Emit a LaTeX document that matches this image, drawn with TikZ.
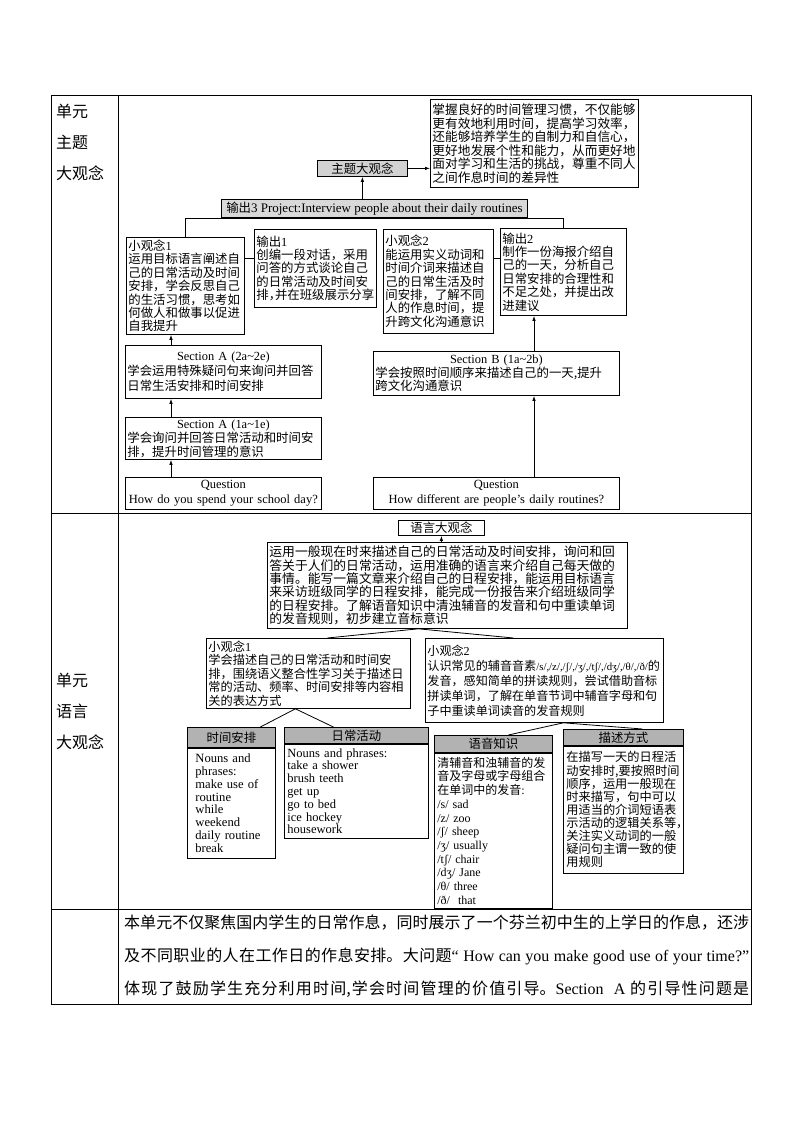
\documentclass[tikz,border=0pt]{standalone}
\usepackage{fontspec}
\setmainfont{Noto Sans CJK SC}
\newfontfamily\en{Liberation Serif}
\usetikzlibrary{arrows.meta,shadows}
\tikzstyle{caja}=[draw, line width=0.8pt, fill=white, anchor=north west, inner sep=2pt, align=left, font=\fontsize{12.4}{13.4}\selectfont]
\tikzstyle{gris}=[draw, line width=0.8pt, fill=gray!35, anchor=north west, inner sep=0pt, font=\fontsize{12.4}{13.4}\selectfont, drop shadow={shadow xshift=1pt, shadow yshift=-1pt, fill=black!70, opacity=1}]
\tikzstyle{cabeza}=[draw, line width=0.8pt, fill=gray!60, anchor=north west, inner sep=0pt, font=\fontsize{12.4}{13.4}\selectfont]
\tikzstyle{flecha}=[line width=0.8pt, -{Latex[length=5pt, width=3.5pt]}]
\tikzstyle{rotulo}=[anchor=north west, inner sep=0pt, align=left, font=\fontsize{16}{31}\selectfont]

\begin{document}
\begin{tikzpicture}[x=1pt, y=-1pt]
        \useasboundingbox (0,0) rectangle (794,1123);

        % Tabla
        \draw[line width=1pt] (51,96) rectangle (751,1004);
        \draw[line width=1pt] (118,96) -- (118,1004);
        \draw[line width=1pt] (51,513) -- (751,513);
        \draw[line width=1pt] (51,909) -- (751,909);

        % Fila 1
        \node[rotulo] (fila1) at (56,104) {单元\\主题\\大观念};
        \node[gris, minimum width=90pt, minimum height=16pt] (zt) at (317,160) {主题大观念};
        \node[caja, text width=204pt, minimum height=88pt, font=\fontsize{12.7}{13.5}\selectfont] (ztbig) at (430,99) {掌握良好的时间管理习惯，不仅能够\\更有效地利用时间，提高学习效率，\\还能够培养学生的自制力和自信心，\\更好地发展个性和能力，从而更好地\\面对学习和生活的挑战，尊重不同人\\之间作息时间的差异性};
        \node[gris, minimum width=306pt, minimum height=18pt, fill=gray!30] (sc3) at (221,199) {输出{\en\fontsize{13}{13}\selectfont 3 Project:Interview people about their daily routines}};

        \node[caja, text width=114pt, minimum height=97pt] (xg1) at (126,237) {小观念{\en 1}\\运用目标语言阐述自\\己的日常活动及时间\\安排，学会反思自己\\的生活习惯，思考如\\何做人和做事以促进\\自我提升};
        \node[caja, text width=118pt, minimum height=78pt] (sc1) at (254,229) {输出{\en 1}\\创编一段对话，采用\\问答的方式谈论自己\\的日常活动及时间安\\排，\kern-0.5em 并在班级展示分享};
        \node[caja, text width=106pt, minimum height=104pt] (xg2) at (383,229) {小观念{\en 2}\\能运用实义动词和\\时间介词来描述自\\己的日常生活及时\\间安排，了解不同\\人的作息时间，提\\升跨文化沟通意识};
        \node[caja, text width=122pt, minimum height=87pt] (sc2) at (500,228) {输出{\en 2}\\制作一份海报介绍自\\己的一天，分析自己\\日常安排的合理性和\\不足之处，并提出改\\进建议};

        \node[caja, text width=192pt, minimum height=53pt, font=\fontsize{12.4}{15}\selectfont] (sa2) at (125,345) {\makebox[192pt]{\en Section A (2a\textasciitilde 2e)}\\学会运用特殊疑问句来询问并回答\\日常生活安排和时间安排};
        \node[caja, text width=192pt, minimum height=42pt, inner ysep=1pt, font=\fontsize{12.4}{14}\selectfont] (sa1) at (125,417) {\makebox[192pt]{\en Section A (1a\textasciitilde 1e)}\\学会询问并回答日常活动和时间安\\排，提升时间管理的意识};
        \node[caja, text width=192pt, minimum height=32pt, inner ysep=1pt, align=center, font=\en\fontsize{12.5}{15}\selectfont] (q1) at (125,477) {Question\\How do you spend your school day?};
        \node[caja, text width=242pt, minimum height=44pt, font=\fontsize{12.4}{13}\selectfont] (sb) at (373,351) {\makebox[242pt]{\en Section B (1a\textasciitilde 2b)}\\学会按照时间顺序来描述自己的一天,提升\\跨文化沟通意识};
        \node[caja, text width=242pt, minimum height=32pt, inner ysep=1pt, align=center, font=\en\fontsize{12.5}{15}\selectfont] (q2) at (373,477) {Question\\How different are people’s daily routines?};

        % Conexiones 1
        \coordinate (ejeA) at (171,0);
        \coordinate (ejeB) at (534,0);
        \draw[flecha] (zt.east) -- (zt.east -| ztbig.west);
        \draw[flecha] (zt.south |- sc3.north) -- (zt.south);
        \draw[line width=0.8pt] (xg1.north) |- ([yshift=-1pt]sc3.south) -| (sc2.north);
        \draw[line width=0.8pt] ([yshift=10pt]sc1.west) -- ([yshift=10pt]sc1.west -| xg1.east);
        \draw[line width=0.8pt] ([yshift=14pt]sc2.west) -- ([yshift=14pt]sc2.west -| xg2.east);
        \draw[flecha] (q1.north -| ejeA) -- (sa1.south -| ejeA);
        \draw[flecha] (sa1.north -| ejeA) -- (sa2.south -| ejeA);
        \draw[flecha] (sa2.north -| ejeA) -- (xg1.south -| ejeA);
        \draw[flecha] (q2.north -| ejeB) -- (sb.south -| ejeB);
        \draw[flecha] (sb.north -| ejeB) -- (sc2.south -| ejeB);

        % Fila 2
        \node[rotulo] (fila2) at (56,673) {单元\\语言\\大观念};
        \node[caja, minimum width=86pt, minimum height=15pt, inner sep=0pt, align=center] (yy) at (398,520) {语言大观念};
        \node[caja, text width=356pt, minimum height=86pt, font=\fontsize{12.8}{13.3}\selectfont] (yybig) at (267,542) {运用一般现在时来描述自己的日常活动及时间安排，询问和回\\答关于人们的日常活动，运用准确的语言来介绍自己每天做的\\事情。能写一篇文章来介绍自己的日程安排，能运用目标语言\\来采访班级同学的日程安排，能完成一份报告来介绍班级同学\\的日程安排。了解语音知识中清浊辅音的发音和句中重读单词\\的发音规则，初步建立音标意识};
        \node[caja, text width=200pt, minimum height=70pt, font=\fontsize{12.2}{13.5}\selectfont] (yxg1) at (206,638) {小观念{\en 1}\\学会描述自己的日常活动和时间安\\排，围绕语义整合性学习关于描述日\\常的活动、频率、时间安排等内容相\\关的表达方式};
        \node[caja, text width=234pt, minimum height=84pt, font=\fontsize{12.1}{15}\selectfont] (yxg2) at (425,638) {小观念{\en 2}\\认识常见的辅音音素{\en\fontsize{10.8}{15}\selectfont /s/,/z/,/ʃ/,/ʒ/,/tʃ/,/dʒ/,/θ/,/ð/}的\\发音，感知简单的拼读规则，尝试借助音标\\拼读单词，了解在单音节词中辅音字母和句\\子中重读单词读音的发音规则};

        \node[cabeza, minimum width=88pt, minimum height=20pt] (sjh) at (187,727) {时间安排};
        \node[caja, text width=72pt, inner xsep=8pt, minimum height=110pt, font=\en\fontsize{12.6}{12.9}\selectfont] (sj) at (sjh.south west) {Nouns and\\phrases:\\make use of\\routine\\while\\weekend\\daily routine\\break};
        \node[cabeza, minimum width=144pt, minimum height=16pt] (rch) at (284,727) {日常活动};
        \node[caja, text width=138pt, inner xsep=3pt, minimum height=94pt, font=\en\fontsize{12.5}{12.8}\selectfont] (rc) at (rch.south west) {Nouns and phrases:\\take a shower\\brush teeth\\get up\\go to bed\\ice hockey\\housework};
        \node[cabeza, minimum width=118pt, minimum height=17pt] (yzh) at (434,735) {语音知识};
        \node[caja, text width=112pt, inner xsep=3pt, minimum height=155pt, font=\fontsize{12}{13.7}\selectfont] (yz) at (yzh.south west) {清辅音和浊辅音的发\\音及字母或字母组合\\在单词中的发音{\en :}\\{\en /s/ sad}\\{\en /z/ zoo}\\{\en /ʃ/ sheep}\\{\en /ʒ/ usually}\\{\en /tʃ/ chair}\\{\en /dʒ/ Jane}\\{\en /θ/ three}\\{\en /ð/\ \ that}};
        \node[cabeza, minimum width=120pt, minimum height=16pt] (msh) at (563,729) {描述方式};
        \node[caja, text width=114pt, inner xsep=3pt, minimum height=127pt, font=\fontsize{12.2}{13.1}\selectfont] (ms) at (msh.south west) {在描写一天的日程活\\动安排时,要按照时间\\顺序，运用一般现在\\时来描写，句中可以\\用适当的介词短语表\\示活动的逻辑关系等，\kern-0.5em\\关注实义动词的一般\\疑问句主谓一致的使\\用规则};

        % Conexiones 2
        \draw[flecha] (yy.south |- yybig.north) -- (yy.south);
        \draw[line width=0.8pt] ([xshift=-29pt]yybig.south) -- ([xshift=19pt]yxg1.north);
        \draw[line width=0.8pt] ([xshift=-29pt]yybig.south) -- ([xshift=-31pt]yxg2.north);
        \draw[line width=0.8pt] ([xshift=-13pt]yxg1.south) -- ([xshift=29pt]sjh.north);
        \draw[line width=0.8pt] ([xshift=-13pt]yxg1.south) -- ([xshift=-23pt]rch.north);
        \draw[line width=0.8pt] ([xshift=19pt]yxg2.south) -- ([xshift=15pt]yzh.north);
        \draw[line width=0.8pt] ([xshift=19pt]yxg2.south) -- ([xshift=19pt]msh.north);

        % Fila 3
        \node[anchor=north west, inner sep=0pt, text width=625pt, align=justify, font=\fontsize{16}{33}\selectfont] (texto) at (124,915) {\XeTeXlinebreaklocale "zh"\XeTeXlinebreakskip=0pt plus 2pt 本单元不仅聚焦国内学生的日常作息，同时展示了一个芬兰初中生的上学日的作息，还涉\linebreak 及不同职业的人在工作日的作息安排。大问题{\en “ How can you make good use of your time?”}\linebreak 体现了鼓励学生充分利用时间,学会时间管理的价值引导。{\en Section\ \ A} 的引导性问题是\linebreak};
\end{tikzpicture}
\end{document}
